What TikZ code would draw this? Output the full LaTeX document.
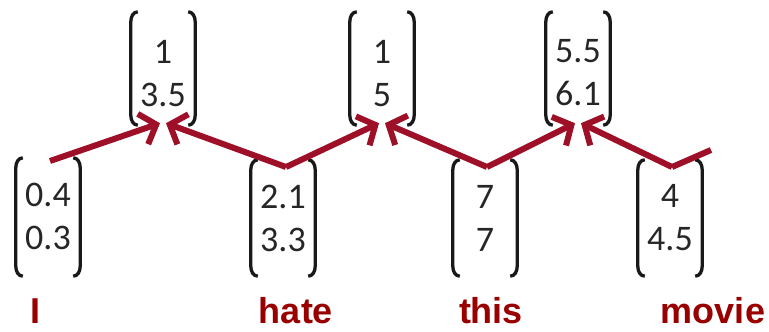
\documentclass[tikz,border=0pt]{standalone}
\usepackage{fontspec}
\setmainfont{Carlito}
\newfontfamily\labfont{Liberation Sans}
\usetikzlibrary{arrows.meta}
\definecolor{arrred}{RGB}{158,16,40}
\definecolor{labred}{RGB}{153,0,0}
\tikzset{
  box/.style={draw=none, inner sep=0pt, minimum width=64pt},
  num/.style={align=center, inner sep=0pt, font=\fontsize{36}{43}\selectfont, text=black!85},
  brk/.style={line width=3.3pt, black!90},
  arr/.style={line width=6pt, arrred, -{Straight Barb[length=14pt,width=32pt]}, line join=miter},
  seg/.style={line width=6pt, arrred},
  lab/.style={anchor=base, inner sep=0pt, text=labred, font=\labfont\bfseries\fontsize{36}{40}\selectfont}
}
\newcommand\vecbox[6]{%
  \node[box, minimum height={(#4-#3)*1pt}] (#1) at (#2,{(#3+#4)/2}) {};
  \node[num] (#1t) at (#2,#5) {#6};
  \draw[brk] ([xshift=7pt]#1.north west) to[out=180,in=90] ([yshift=-10pt]#1.north west)
     -- ([yshift=10pt]#1.south west) to[out=-90,in=180] ([xshift=7pt]#1.south west);
  \draw[brk] ([xshift=-7pt]#1.north east) to[out=0,in=90] ([yshift=-10pt]#1.north east)
     -- ([yshift=10pt]#1.south east) to[out=-90,in=0] ([xshift=-7pt]#1.south east);
}
\begin{document}
\begin{tikzpicture}[x=1pt,y=-1pt]
\useasboundingbox (0,0) rectangle (769,332);
% bottom vectors
\vecbox{v1}{48}{158}{276}{216.5}{0.4\\0.3}
\vecbox{v2}{283}{160}{276}{218}{2.1\\3.3}
\vecbox{v3}{485}{160}{276}{218}{7\\7}
\vecbox{v4}{670}{160}{276}{218}{4\\4.5}
% top vectors
\vecbox{t1}{163}{12}{125}{73.5}{1\\3.5}
\vecbox{t2}{382}{12}{125}{73.5}{1\\5}
\vecbox{t3}{578}{12}{125}{72.5}{5.5\\6.1}
% connectors
\coordinate (p1) at (50,161);
\coordinate (p2) at (286,167);
\coordinate (p3) at (487,167);
\coordinate (p4) at (672,167);
\coordinate (pend) at (711,150);
\draw[arr] (p1) -- ([xshift=-3pt,yshift=2pt]t1.south);
\draw[arr] (p2) -- ([xshift=3pt,yshift=2pt]t1.south);
\draw[arr] (p2) -- ([xshift=-3pt,yshift=2pt]t2.south);
\draw[arr] (p3) -- ([xshift=3pt,yshift=2pt]t2.south);
\draw[arr] (p3) -- ([xshift=-3pt,yshift=2pt]t3.south);
\draw[arr] (p4) -- ([xshift=3pt,yshift=2pt]t3.south);
\draw[seg] (p4) -- (pend);
% labels
\node[lab] (w1) at (35.5,323) {I};
\node[lab] (w2) at (296,323) {hate};
\node[lab] (w3) at (491,323) {this};
\node[lab] (w4) at (713,323) {movie};
\end{tikzpicture}
\end{document}
